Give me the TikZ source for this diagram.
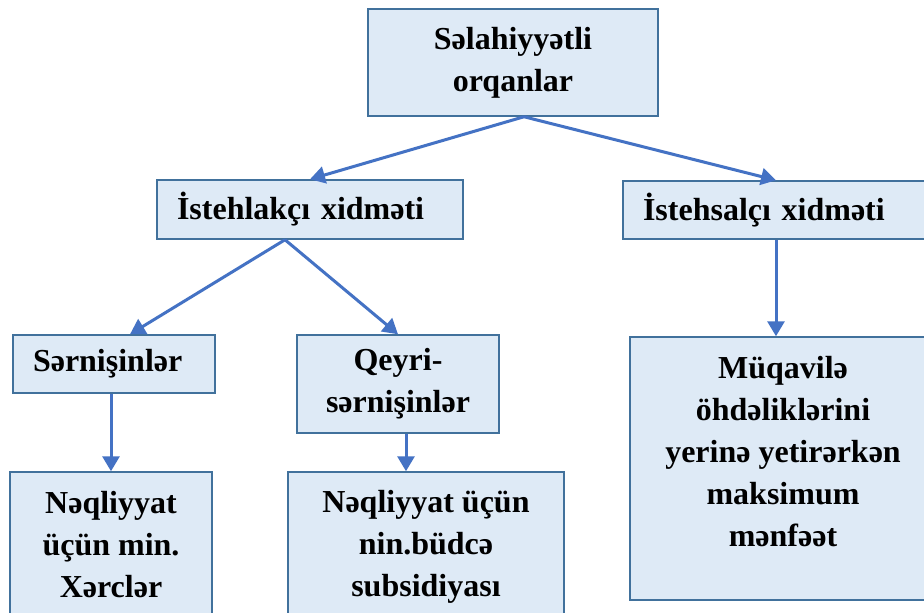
\documentclass[tikz,border=0pt]{standalone}
\usepackage{fontspec}
\setmainfont{Liberation Serif}
\usetikzlibrary{arrows.meta,calc}
\definecolor{boxfill}{HTML}{DEEAF6}
\definecolor{boxline}{HTML}{41719C}
\definecolor{arrowc}{HTML}{4472C4}
\begin{document}
\begin{tikzpicture}[x=1pt,y=-1pt,
  box/.style={draw=boxline,fill=boxfill,line width=1.5pt,inner sep=0pt,
    font=\bfseries\fontsize{32}{42}\selectfont,align=center},
  leftbox/.style={box,align=left,inner xsep=20pt},
  conn/.style={draw=arrowc,line width=3pt,-{Triangle[width=17pt,length=15pt]}}]
\useasboundingbox (0,0) rectangle (924,613);
\clip (0,0) rectangle (924,613);
\fill[white] (0,0) rectangle (924,613);

\node[box,minimum width=290pt,minimum height=107pt] (top) at (513,62.5)
  {Səlahiyyətli\\orqanlar};
\node[leftbox,text width=266pt,minimum height=59pt] (ist) at (310,209.5)
  {İstehlakçı xidməti};
\node[leftbox,text width=266pt,minimum height=58pt] (ish) at (776,210)
  {İstehsalçı xidməti};
\node[leftbox,text width=162pt,minimum height=58pt] (ser) at (114,364)
  {Sərnişinlər};
\node[box,minimum width=202pt,minimum height=98pt] (qey) at (398,384)
  {Qeyri-\\sərnişinlər};
\node[box,minimum width=202pt,minimum height=146pt] (n1) at (111,545)
  {Nəqliyyat\\üçün min.\\Xərclər};
\node[box,minimum width=276pt,minimum height=150pt] (n2) at (426,547)
  {Nəqliyyat üçün\\nin.büdcə\\subsidiyası};
\node[box,minimum width=306pt,minimum height=263pt] (n3) at (783,468.5)
  {Müqavilə\\öhdəliklərini\\yerinə yetirərkən\\maksimum\\mənfəət\\[-7pt]\mbox{}};

\draw[conn] ([xshift=11pt]top.south) -- (ist.north);
\draw[conn] ([xshift=11pt]top.south) -- (ish.north);
\draw[conn] ([xshift=-25pt]ist.south) -- ([xshift=16pt]ser.north);
\draw[conn] ([xshift=-25pt]ist.south) -- (qey.north);
\draw[conn] (n1.north |- ser.south) -- (n1.north);
\draw[conn] ([xshift=8pt]qey.south) -- ([xshift=8pt]qey.south |- n2.north);
\draw[conn] (ish.south) -- (ish.south |- n3.north);
\end{tikzpicture}
\end{document}
